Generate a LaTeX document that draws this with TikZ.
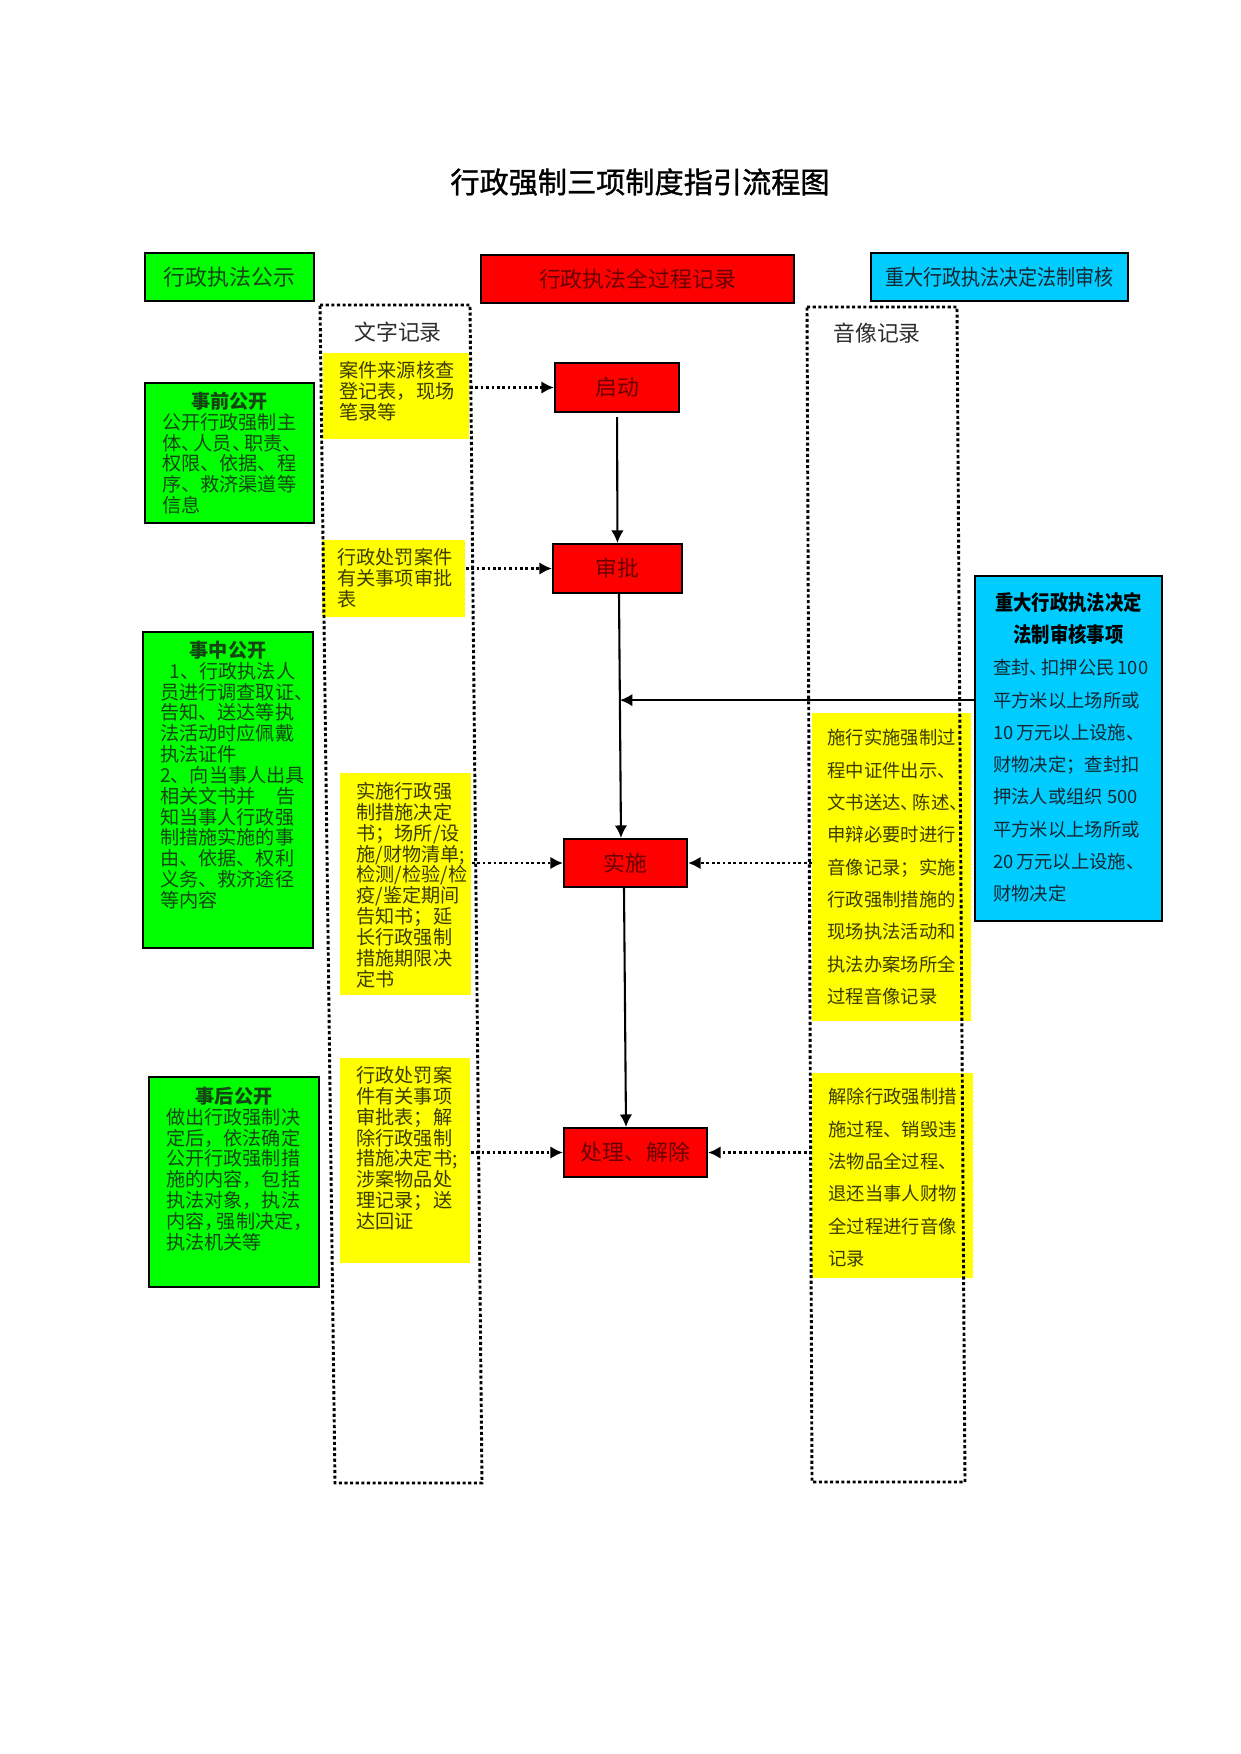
\documentclass[tikz,border=0pt]{standalone}
\usepackage{fontspec}
\setmainfont{Noto Sans CJK SC}
\newfontfamily\narrowcjk[FakeStretch=0.88]{Noto Sans CJK SC}
\newfontfamily\titlecjk[FakeBold=1.2]{Noto Sans CJK SC}
\usepackage{tikz}
\usetikzlibrary{arrows.meta,positioning,calc}

\newdimen\px \px=0.48pt
\newcommand{\inbox}[3]{\begin{minipage}[t][#2\px][t]{#1\px}#3\end{minipage}}
\newcommand{\dn}{、\kern-.35em}

\definecolor{gkgreen}{RGB}{0,255,0}
\definecolor{gkred}{RGB}{255,0,0}
\definecolor{gkyellow}{RGB}{255,255,0}
\definecolor{gkcyan}{RGB}{0,204,255}
\definecolor{gtext}{RGB}{20,70,20}
\definecolor{rtext}{RGB}{105,0,0}
\definecolor{ytext}{RGB}{60,60,0}
\definecolor{ctext}{RGB}{20,40,50}
\definecolor{ltext}{RGB}{45,45,45}

\tikzset{
    %Define standard arrow tip
    >={Latex[length=6pt,width=6pt]},
    %Define style for boxes
    gbox/.style={
           draw, line width=1pt, fill=gkgreen, text=gtext,
           anchor=north west, inner sep=0pt,
           font=\fontsize{9.2}{10}\selectfont},
    ybox/.style={
           fill=gkyellow, text=ytext, anchor=north west, inner sep=0pt,
           font=\fontsize{9.2}{10}\selectfont},
    yrbox/.style={
           ybox, font=\fontsize{8.8}{15.5}\selectfont},
    rbox/.style={
           draw, line width=1pt, fill=gkred, text=rtext, inner sep=0pt,
           font=\fontsize{10.5}{12}\selectfont},
    cbox/.style={
           draw, line width=1pt, fill=gkcyan, text=ctext,
           anchor=north west, inner sep=0pt,
           font=\fontsize{8.8}{15.5}\selectfont},
    % Define arrow style
    pil/.style={
           ->,
           line width=1pt},
    dotpil/.style={
           ->,
           line width=1.3pt,
           dash pattern=on 1.3pt off 1.3pt}
}

\begin{document}
\begin{tikzpicture}[x=0.48pt, y=-0.48pt]
	% Styles
	\tikzstyle{frame} = [line width=1.4pt, dash pattern=on 1.5pt off 1.2pt]
	\tikzstyle{label} = [font=\fontsize{10.5}{12}\selectfont, text=ltext]

	\useasboundingbox (0,0) rectangle (1241,1754);

	\node[font=\titlecjk\fontsize{14}{16}\selectfont] (title) at (640,182) {行政强制三项制度指引流程图};

	% Headers
	\node[gbox, minimum width=169*\px, minimum height=48*\px, font=\fontsize{10.5}{12}\selectfont] (gongshi) at (144,252) {行政执法公示};
	\node[rbox, anchor=north west, minimum width=313*\px, minimum height=48*\px] (quanguocheng) at (480,254) {行政执法全过程记录};
	\node[cbox, minimum width=257*\px, minimum height=48*\px, font=\narrowcjk\fontsize{10.4}{12}\selectfont] (fazhi) at (870,252) {重大行政执法决定法制审核};

	\node[label] (wenzi) at (398,332) {文字记录};
	\node[label] (yinxiang) at (877,333) {音像记录};

	% Publicity blocks
	\node[gbox, inner xsep=17*\px, inner ysep=9*\px] (shiqian) at (144,382) {\inbox{135}{122}{%
		{\centering\textbf{事前公开}\par}
		公开行政强制主\\体\dn 人员\dn 职责、\\权限、依据、程\\序、救济渠道等\\信息}};
	\node[gbox, inner xsep=17*\px, inner ysep=9*\px] (shizhong) at (142,631) {\inbox{136}{298}{%
		{\centering\textbf{事中公开}\par}
		\hspace*{.5em}1、行政执法人\\员进行调查取证、\\告知、送达等执\\法活动时应佩戴\\执法证件\\2、向当事人出具\\相关文书并\hfill 告\\知当事人行政强\\制措施实施的事\\由、依据、权利\\义务、救济途径\\等内容}};
	\node[gbox, inner xsep=17*\px, inner ysep=10*\px] (shihou) at (148,1076) {\inbox{136}{190}{%
		{\centering\textbf{事后公开}\par}
		做出行政强制决\\定后，依法确定\\公开行政强制措\\施的内容，包括\\执法对象，执法\\内容，\kern-.35em 强制决定，\\执法机关等}};

	% Written records
	\node[ybox, inner xsep=16*\px, inner ysep=8*\px] (wz1) at (323,353) {\inbox{114}{70}{案件来源核查\\登记表，现场\\笔录等}};
	\node[ybox, inner xsep=15*\px, inner ysep=8*\px] (wz2) at (322,540) {\inbox{113}{61}{行政处罚案件\\有关事项审批\\表}};
	\node[ybox, inner xsep=16*\px, inner ysep=9*\px] (wz3) at (340,773) {\inbox{99}{204}{实施行政强\\制措施决定\\书；场所/设\\施/财物清单;\\检测/检验/检\\疫/鉴定期间\\告知书；延\\长行政强制\\措施期限决\\定书}};
	\node[ybox, inner xsep=16*\px, inner ysep=8*\px] (wz4) at (340,1058) {\inbox{98}{189}{行政处罚案\\件有关事项\\审批表；解\\除行政强制\\措施决定书;\\涉案物品处\\理记录；送\\达回证}};

	% Audio and video records
	\node[yrbox, inner xsep=15*\px, inner ysep=16*\px] (yx1) at (812,713) {\inbox{129}{276}{施行实施强制过\\程中证件出示、\\文书送达\dn 陈述、\\申辩必要时进行\\音像记录；实施\\行政强制措施的\\现场执法活动和\\执法办案场所全\\过程音像记录}};
	\node[yrbox, inner xsep=16*\px, inner ysep=15*\px] (yx2) at (812,1073) {\inbox{129}{175}{解除行政强制措\\施过程、销毁违\\法物品全过程、\\退还当事人财物\\全过程进行音像\\记录}};

	% Legal review
	\node[cbox, inner xsep=18*\px, inner ysep=16*\px] (shixiang) at (974,575) {\inbox{151}{313}{%
		{\centering\color{black}\narrowcjk\bfseries\fontsize{10}{15.5}\selectfont 重大行政执法决定\\法制审核事项\par}
		查封\dn 扣押公民~100\\平方米以上场所或\\10~万元以上设施、\\财物决定；查封扣\\押法人或组织~500\\平方米以上场所或\\20~万元以上设施、\\财物决定}};

	% Code blocks
	\node[rbox, minimum width=124*\px, minimum height=49*\px] (qidong) at (617,387.5) {启动};
	\node[rbox, minimum width=129*\px, minimum height=49*\px] (shenpi) at (617.5,568.5) {审批};
	\node[rbox, minimum width=123*\px, minimum height=48*\px] (shishi) at (625.5,863) {实施};
	\node[rbox, minimum width=143*\px, minimum height=49*\px] (chuli) at (635.5,1152.5) {处理、解除};

	% Frames
	\draw[frame] (320,305) -- (470,305) -- (482,1483) -- (335,1483) -- cycle;
	\draw[frame] (807,307) -- (957,307) -- (965,1482) -- (812,1482) -- cycle;

	\coordinate (top) at ([xshift=1.5*\px]shenpi.south);
	\coordinate (join) at ($(top)!0.435!([xshift=-4.5*\px]shishi.north)$);

	\draw[pil, shorten <=2pt] (qidong) -- (shenpi);
	\draw[pil] (top) -- ([xshift=-4.5*\px]shishi.north);
	\draw[pil] ([xshift=-1.5*\px]shishi.south) -- ([xshift=-9.5*\px]chuli.north);
	\draw[pil] (shixiang.west |- join) -- (join);

	\draw[dotpil] (wz1.east |- qidong.west) -- (qidong.west);
	\draw[dotpil] (wz2.east |- shenpi.west) -- (shenpi.west);
	\draw[dotpil] (wz3.east |- shishi.west) -- (shishi.west);
	\draw[dotpil] (wz4.east |- chuli.west) -- (chuli.west);
	\draw[dotpil] (yx1.west |- shishi.east) -- (shishi.east);
	\draw[dotpil] (yx2.west |- chuli.east) -- (chuli.east);
\end{tikzpicture}
\end{document}
